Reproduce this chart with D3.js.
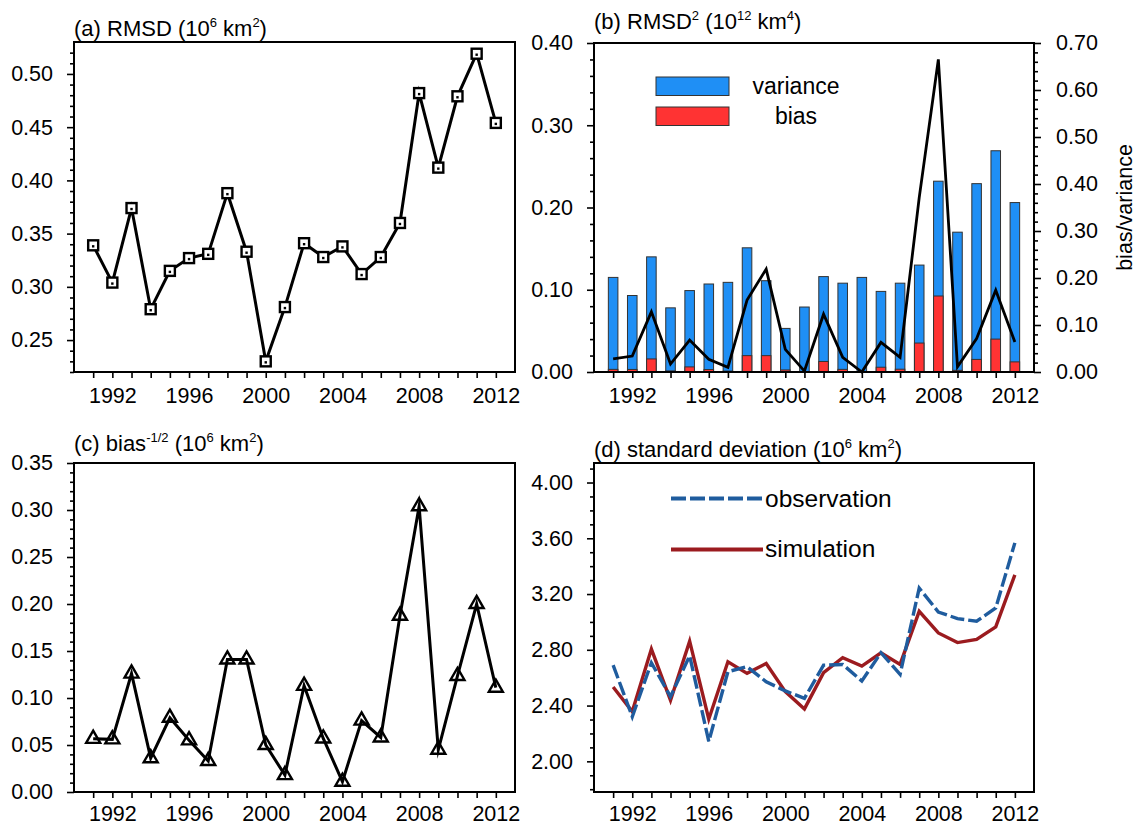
<!DOCTYPE html>
<html><head><meta charset="utf-8">
<script src="https://cdn.jsdelivr.net/npm/d3@7"></script>
<style>
body{margin:0;background:#fff}
svg{display:block}
text{font-family:"Liberation Sans",Arial,Helvetica,sans-serif;fill:#000}
</style>
</head><body>
<svg id="chart" width="1137" height="828"></svg>
<script>
// ---------------- data ----------------
const years = [1991,1992,1993,1994,1995,1996,1997,1998,1999,2000,2001,2002,2003,2004,2005,2006,2007,2008,2009,2010,2011,2012];
const yearLabels = [1992,1996,2000,2004,2008,2012];

// (a) RMSD (10^6 km^2)
const rmsd = [0.339,0.304,0.374,0.279,0.315,0.327,0.331,0.388,0.333,0.230,0.281,0.341,0.328,0.338,0.312,0.328,0.360,0.482,0.412,0.479,0.519,0.454];
const aTicks = [0.25,0.30,0.35,0.40,0.45,0.50];

// (b) RMSD^2 (10^12 km^4): bar top (variance + bias) and bias part, ratio bias/variance
const rmsdSq = [0.115,0.093,0.140,0.078,0.099,0.107,0.109,0.151,0.111,0.053,0.079,0.116,0.108,0.115,0.098,0.108,0.130,0.232,0.170,0.229,0.269,0.206];
const biasSq = [0.0032,0.0031,0.0159,0.0013,0.0062,0.0030,0.0011,0.0199,0.0199,0.0025,0.0003,0.0128,0.0032,0.0001,0.0058,0.0034,0.0352,0.0924,0.0020,0.0153,0.0400,0.0123];
const ratio = [0.028,0.034,0.128,0.017,0.068,0.027,0.010,0.153,0.219,0.048,0.002,0.123,0.031,0.000,0.063,0.031,0.371,0.665,0.011,0.071,0.174,0.064];
const bLeftTicks = [0.00,0.10,0.20,0.30,0.40];
const bRightTicks = [0.00,0.10,0.20,0.30,0.40,0.50,0.60,0.70];

// (c) bias^-1/2 (10^6 km^2)
const biasRoot = [0.0566,0.056,0.126,0.036,0.079,0.055,0.033,0.141,0.141,0.050,0.018,0.113,0.057,0.011,0.076,0.058,0.1875,0.304,0.045,0.1235,0.200,0.111];
const cTicks = [0.00,0.05,0.10,0.15,0.20,0.25,0.30,0.35];

// (d) standard deviation (10^6 km^2)
const obsStd = [2.69,2.32,2.707,2.464,2.757,2.143,2.643,2.679,2.571,2.505,2.452,2.69,2.695,2.576,2.779,2.624,3.243,3.071,3.024,3.005,3.10,3.567];
const simStd = [2.533,2.357,2.805,2.438,2.862,2.302,2.714,2.631,2.702,2.50,2.376,2.636,2.743,2.683,2.779,2.695,3.076,2.921,2.852,2.874,2.964,3.338];
const dTicks = [2.00,2.40,2.80,3.20,3.60,4.00];

// ---------------- layout ----------------
const svg = d3.select("#chart");
const TICKF = 21.5;
const A = {l:74, r:515, t:42, b:372};
const B = {l:594, r:1034, t:43, b:372};
const C = {l:74, r:515, t:463, b:792};
const D = {l:594, r:1034, t:463, b:792};

function xScale(P){ return d3.scaleLinear().domain([1990,2013]).range([P.l,P.r]); }

function styleAxis(g){
  g.attr("font-size",null).attr("font-family",null);
  g.select(".domain").remove();
  g.selectAll(".tick line").attr("stroke","#000").attr("stroke-width",1.6);
  g.selectAll(".tick text").style("font-size",TICKF+"px");
}

function xAxis(P, x, pad){
  const g = svg.append("g").attr("transform",`translate(0,${P.b})`)
    .call(d3.axisBottom(x).tickValues(years).tickSize(6).tickPadding(pad)
      .tickFormat(d => yearLabels.includes(d) ? String(d) : ""));
  styleAxis(g);
}

function yAxisLeft(P, y, ticks, minor){
  const g = svg.append("g").attr("transform",`translate(${P.l},0)`)
    .call(d3.axisLeft(y).tickValues(ticks).tickSize(7).tickPadding(14).tickFormat(d3.format(".2f")));
  styleAxis(g);
  const m = svg.append("g").attr("transform",`translate(${P.l},0)`)
    .call(d3.axisLeft(y).tickValues(minor).tickSize(4).tickFormat(""));
  styleAxis(m);
}

function yAxisRight(P, y, ticks, minor){
  const g = svg.append("g").attr("transform",`translate(${P.r},0)`)
    .call(d3.axisRight(y).tickValues(ticks).tickSize(7).tickPadding(15).tickFormat(d3.format(".2f")));
  styleAxis(g);
  const m = svg.append("g").attr("transform",`translate(${P.r},0)`)
    .call(d3.axisRight(y).tickValues(minor).tickSize(4).tickFormat(""));
  styleAxis(m);
}

function frame(P){
  svg.append("rect").attr("x",P.l).attr("y",P.t).attr("width",P.r-P.l).attr("height",P.b-P.t)
    .attr("fill","none").attr("stroke","#000").attr("stroke-width",2);
}

function title(x, y, parts){
  const t = svg.append("text").attr("x",x).attr("y",y).style("font-size","22px");
  let shift = 0;
  parts.forEach(([s, sup]) => {
    const target = sup ? -9 : 0;
    const ts = t.append("tspan").attr("dy", target - shift).text(s);
    if (sup) ts.style("font-size","13px");
    shift = target;
  });
}

function minorRange(lo, hi, step){
  const out = [];
  for (let v = lo; v <= hi + 1e-9; v += step) out.push(+v.toFixed(4));
  return out;
}

// ---------------- panel (a) ----------------
{
  const x = xScale(A);
  const y = d3.scaleLinear().domain([0.22,0.53]).range([A.b,A.t]);
  yAxisLeft(A, y, aTicks, minorRange(0.22,0.52,0.01).filter(v=>!aTicks.some(t=>Math.abs(t-v)<1e-6)));
  xAxis(A, x, 10);
  const line = d3.line().x((d,i)=>x(years[i])).y(d=>y(d));
  svg.append("path").datum(rmsd).attr("d",line).attr("fill","none").attr("stroke","#000")
    .attr("stroke-width",3).attr("stroke-linejoin","miter").attr("stroke-miterlimit",10);
  const s = 10;
  svg.append("g").selectAll("rect").data(rmsd).join("rect")
    .attr("x",(d,i)=>x(years[i])-s/2).attr("y",d=>y(d)-s/2).attr("width",s).attr("height",s)
    .attr("fill","#fff").attr("stroke","#000").attr("stroke-width",2.4);
  svg.append("g").selectAll("rect").data(rmsd).join("rect")
    .attr("x",(d,i)=>x(years[i])-1.2).attr("y",d=>y(d)-0.2).attr("width",2.4).attr("height",2.4)
    .attr("fill","#000");
  frame(A);
  title(74, 36, [["(a) RMSD (10"],["6",1],[" km"],["2",1],[")"]]);
}

// ---------------- panel (b) ----------------
{
  const x = xScale(B);
  const y = d3.scaleLinear().domain([0,0.40]).range([B.b,B.t]);
  const y2 = d3.scaleLinear().domain([0,0.70]).range([B.b,B.t]);
  const bw = (x(1991)-x(1990))*0.5;
  svg.append("g").selectAll("rect").data(rmsdSq).join("rect")
    .attr("x",(d,i)=>x(years[i])-bw/2).attr("y",d=>y(d)).attr("width",bw).attr("height",d=>y(0)-y(d))
    .attr("fill","#1f8ff5").attr("stroke","#333").attr("stroke-width",1);
  svg.append("g").selectAll("rect").data(biasSq).join("rect")
    .attr("x",(d,i)=>x(years[i])-bw/2).attr("y",d=>y(d)).attr("width",bw).attr("height",d=>y(0)-y(d))
    .attr("fill","#ff3333").attr("stroke","#333").attr("stroke-width",1);
  const line = d3.line().x((d,i)=>x(years[i])).y(d=>y2(d));
  svg.append("path").datum(ratio).attr("d",line).attr("fill","none").attr("stroke","#000")
    .attr("stroke-width",2.8).attr("stroke-linejoin","miter").attr("stroke-miterlimit",10);
  yAxisLeft(B, y, bLeftTicks, minorRange(0,0.40,0.02).filter(v=>!bLeftTicks.some(t=>Math.abs(t-v)<1e-6)));
  yAxisRight(B, y2, bRightTicks, minorRange(0,0.70,0.02).filter(v=>!bRightTicks.some(t=>Math.abs(t-v)<1e-6)));
  xAxis(B, x, 10);
  frame(B);
  title(594, 29, [["(b) RMSD"],["2",1],[" (10"],["12",1],[" km"],["4",1],[")"]]);
  // legend
  const lg = svg.append("g");
  lg.append("rect").attr("x",656).attr("y",77).attr("width",73).attr("height",18.5)
    .attr("fill","#1f8ff5").attr("stroke","#333").attr("stroke-width",1);
  lg.append("rect").attr("x",656).attr("y",107).attr("width",73).attr("height",18.5)
    .attr("fill","#ff3333").attr("stroke","#333").attr("stroke-width",1);
  lg.append("text").attr("x",796).attr("y",93.5).attr("text-anchor","middle").style("font-size","23px").text("variance");
  lg.append("text").attr("x",796).attr("y",123.5).attr("text-anchor","middle").style("font-size","23px").text("bias");
  svg.append("text").attr("transform","translate(1124,207.5) rotate(-90)").attr("dy","0.36em")
    .attr("text-anchor","middle").style("font-size","21.5px").text("bias/variance");
}

// ---------------- panel (c) ----------------
{
  const x = xScale(C);
  const y = d3.scaleLinear().domain([0,0.35]).range([C.b,C.t]);
  yAxisLeft(C, y, cTicks, minorRange(0,0.35,0.01).filter(v=>!cTicks.some(t=>Math.abs(t-v)<1e-6)));
  xAxis(C, x, 8);
  const line = d3.line().x((d,i)=>x(years[i])).y(d=>y(d));
  svg.append("path").datum(biasRoot).attr("d",line).attr("fill","none").attr("stroke","#000")
    .attr("stroke-width",3).attr("stroke-linejoin","miter").attr("stroke-miterlimit",10);
  const tri = d3.symbol().type(d3.symbolTriangle).size(85);
  svg.append("g").selectAll("path").data(biasRoot).join("path")
    .attr("d",tri).attr("transform",(d,i)=>`translate(${x(years[i])},${y(d)})`)
    .attr("fill","none").attr("stroke","#000").attr("stroke-width",2.4);
  frame(C);
  title(74, 451, [["(c) bias"],["-1/2",1],[" (10"],["6",1],[" km"],["2",1],[")"]]);
}

// ---------------- panel (d) ----------------
{
  const x = xScale(D);
  const y = d3.scaleLinear().domain([1.78,4.14]).range([D.b,D.t]);
  yAxisLeft(D, y, dTicks, minorRange(1.8,4.1,0.1).filter(v=>!dTicks.some(t=>Math.abs(t-v)<1e-6)));
  xAxis(D, x, 8);
  const line = d3.line().x((d,i)=>x(years[i])).y(d=>y(d));
  const obsCol = "#1f5c9e", simCol = "#9b1b1f";
  svg.append("path").datum(simStd).attr("d",line).attr("fill","none").attr("stroke",simCol)
    .attr("stroke-width",3.4).attr("stroke-linejoin","miter");
  svg.append("path").datum(obsStd).attr("d",line).attr("fill","none").attr("stroke",obsCol)
    .attr("stroke-width",3.4).attr("stroke-dasharray","14,4").attr("stroke-linejoin","miter");
  frame(D);
  title(594, 457, [["(d) standard deviation (10"],["6",1],[" km"],["2",1],[")"]]);
  const lg = svg.append("g");
  lg.append("line").attr("x1",671).attr("x2",763).attr("y1",498.5).attr("y2",498.5)
    .attr("stroke",obsCol).attr("stroke-width",4).attr("stroke-dasharray","15,4");
  lg.append("line").attr("x1",671).attr("x2",763).attr("y1",549.5).attr("y2",549.5)
    .attr("stroke",simCol).attr("stroke-width",4);
  lg.append("text").attr("x",765).attr("y",507).style("font-size","24.5px").text("observation");
  lg.append("text").attr("x",765).attr("y",557).style("font-size","24.5px").text("simulation");
}
</script>
</body></html>
